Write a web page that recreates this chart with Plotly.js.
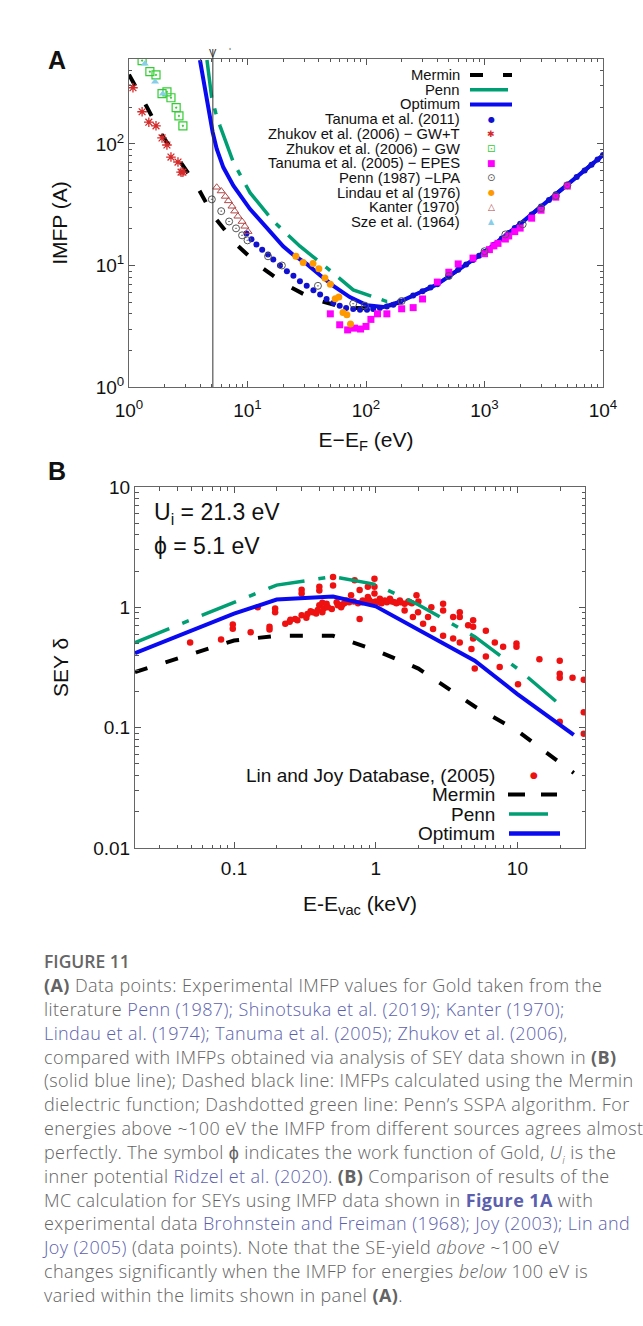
<!DOCTYPE html>
<html><head><meta charset="utf-8">
<script src="https://cdn.plot.ly/plotly-3.0.1.min.js"></script>
<style>
html,body{margin:0;padding:0;background:#fff;}
#wrap{position:relative;width:643px;height:1326px;overflow:hidden;background:#fff;}
#chart{position:absolute;left:0;top:0;width:643px;height:1326px;}
#cap{position:absolute;left:0;top:0;width:643px;height:1326px;font-family:'Open Sans',sans-serif;color:#636363;pointer-events:none;}
.ln{position:absolute;left:44px;white-space:nowrap;font-size:18px;line-height:20px;letter-spacing:0.4px;font-weight:300;}
.lk{color:#5c5fae;}
b{font-weight:700;}
</style></head>
<body>
<div id="wrap"><div id="chart"></div>
<div id="cap">
<div class="ln" style="top:951px;font-weight:600;color:#666;letter-spacing:0;font-size:17.5px;">FIGURE 11</div>
<div class="ln" style="top:975px;"><b>(A)</b> Data points: Experimental IMFP values for Gold taken from the</div>
<div class="ln" style="top:999px;">literature <span class="lk">Penn (1987); Shinotsuka et al. (2019); Kanter (1970);</span></div>
<div class="ln" style="top:1023px;"><span class="lk">Lindau et al. (1974); Tanuma et al. (2005); Zhukov et al. (2006)</span>,</div>
<div class="ln" style="top:1047px;">compared with IMFPs obtained via analysis of SEY data shown in <b>(B)</b></div>
<div class="ln" style="top:1070px;">(solid blue line); Dashed black line: IMFPs calculated using the Mermin</div>
<div class="ln" style="top:1094px;">dielectric function; Dashdotted green line: Penn’s SSPA algorithm. For</div>
<div class="ln" style="top:1118px;">energies above ~100 eV the IMFP from different sources agrees almost</div>
<div class="ln" style="top:1142px;">perfectly. The symbol ϕ indicates the work function of Gold, <i>U<sub style="font-size:11px">i</sub></i> is the</div>
<div class="ln" style="top:1166px;">inner potential <span class="lk">Ridzel et al. (2020)</span>. <b>(B)</b> Comparison of results of the</div>
<div class="ln" style="top:1190px;">MC calculation for SEYs using IMFP data shown in <b class="lk">Figure 1A</b> with</div>
<div class="ln" style="top:1213px;">experimental data <span class="lk">Brohnstein and Freiman (1968); Joy (2003); Lin and</span></div>
<div class="ln" style="top:1237px;"><span class="lk">Joy (2005)</span> (data points). Note that the SE-yield <i>above</i> ~100 eV</div>
<div class="ln" style="top:1261px;">changes significantly when the IMFP for energies <i>below</i> 100 eV is</div>
<div class="ln" style="top:1285px;">varied within the limits shown in panel <b>(A)</b>.</div>
</div>
</div>
<script>
// ---------------- Panel A data (E - E_F in eV, IMFP in Angstrom) ----------------
const merminE = [1,1.12,1.4,1.9,2.64,3.75,5.1,8,12.5,20.7,35.7,66.5,100,150,200,300,400,600,1000,2000,4000,10000];
const merminL = [372,301,205,118,74,45,26,15,10,7.0,5.3,4.5,4.45,4.6,5.05,6.14,7.0,9.2,12.9,22,38.6,81];
const pennE = [4.55,4.98,5.4,5.86,7.6,10.5,16.5,27.7,46.5,78,150,200,300,400,600,1000,2000,4000,10000];
const pennL = [490,243,180,141,70.6,39.7,23.2,14.4,9.6,6.3,5.05,5.1,6.14,7.0,9.2,12.9,22,38.6,81];
const optE = [3.97,4.24,4.52,4.82,5.08,5.5,6.25,7.6,10.5,14.5,20,24.4,31.6,41,53,73,102,140,194,300,400,600,1000,2000,4000,10000];
const optL = [490,343,236,161,125,90.8,64.2,45.3,29.1,20.5,14.4,12.2,10.3,8.3,6.8,5.5,4.7,4.55,5.05,6.14,7.0,9.2,12.9,22,38.6,81];

const tan11E = [9.8,10.8,11.9,13.3,14.9,16.5,18.8,21.5,24.4,27.7,31.6,36,41,46.5,53,60,68,78,89,102,115,131,150,170,194,250,300,350,400,500,600,700,800,900,1000,1200,1400,1600,1800,2000,2500,3000,3500,4000,5000,6000,7000,8000,9000,10000];
const tan11L = [18.3,16.4,14.9,13.5,12.3,11.2,10.0,8.95,8.24,7.4,6.8,6.25,5.77,5.3,4.9,4.67,4.47,4.38,4.33,4.33,4.38,4.47,4.6,4.76,5.05,5.65,6.14,6.6,7.0,8.1,9.2,10.2,11.1,12.0,12.9,14.8,16.7,18.5,20.3,22,26.3,30.5,34.6,38.6,46.2,53.5,60.6,67.5,74.3,81];
const zhGWTE = [1.08,1.29,1.47,1.69,1.9,2.09,2.26,2.59,2.75,2.85];
const zhGWTL = [290,184,151,141,112,98,78,71,58.6,58.6];
const zhGWE = [1.29,1.5,1.69,1.9,2.09,2.26,2.5,2.64,2.85];
const zhGWL = [485,393,370,259,268,240,199,170,141];
const epesE = [50,60,70,80,90,100,110,125,150,200,250,300,400,500,600,800,1000,1100,1200,1300,1500,1600,1800,2000,2500,3000,4000,5000];
const epesL = [4.0,3.25,2.95,3.05,3.0,3.15,3.6,4.0,4.0,4.4,4.5,5.3,7.3,8.8,10.3,11.5,12.5,13.5,14.5,15.2,16.5,17.5,19,20.3,24.5,28.5,36.5,45];
const pennLpaE = [5.0,6.0,7.0,8.0,9.0,10,14.9,19.5,39.3,78,98,200,500,1000,1500,2100,3000,4000,5000];
const pennLpaL = [35,28,23,20.2,17.7,16.1,11.9,10.0,6.8,4.85,4.67,5.1,8.2,13.1,18,21.8,29.6,37.3,45.7];
const lindauE = [25.6,29.5,35.7,40,45,50,55,59,64,69,74];
const lindauL = [11.9,10.6,10.4,9.4,7.9,7.0,5.33,5.5,4.1,3.93,3.3];
const kanterE = [5.5,6.0,6.5,6.9,7.4,7.8,8.3,9.0,9.5,10.1];
const kanterL = [44,41,37,34,30.7,28,25.4,23,21,19];
const szeE = [1.36,1.66,1.93];
const szeL = [458,325,259];

// ---------------- Panel B data (E - E_vac in keV, SEY) ----------------
const bE = [0.02,0.1,0.2,0.5,1,2,5,10,25];
const bOpt = [0.416,0.886,1.16,1.23,1.02,0.65,0.36,0.19,0.087];
const bMerE = [0.02,0.1,0.2,0.5,1,2,5,10,25];
const bMer = [0.29,0.53,0.58,0.58,0.44,0.31,0.15,0.094,0.042];
const bPennE = [0.02,0.1,0.2,0.5,1,2,5,10,20];
const bPenn = [0.51,1.1,1.53,1.8,1.55,1.05,0.57,0.31,0.155];
const ljE = [0.049,0.081,0.098,0.098,0.131,0.147,0.178,0.178,0.195,0.195,0.23,0.247,0.28,0.30,0.30,0.30,0.324,0.347,0.38,0.40,0.40,0.40,0.42,0.42,0.36,0.45,0.49,0.50,0.50,0.53,0.57,0.62,0.67,0.71,0.77,0.77,0.81,0.88,0.88,0.98,0.98,0.98,1.07,1.16,1.26,1.36,1.48,1.6,1.74,1.94,1.6,1.83,1.99,2.16,2.34,2.54,2.47,2.99,2.99,2.99,3.52,3.52,3.92,3.92,3.92,4.49,4.87,4.87,4.87,4.74,5.0,5.99,5.99,6.93,7.5,7.93,9.85,9.85,10.1,14.3,19.9,19.9,19.9,19.9,24.5,29.4,29.4,29.4,
  0.55,0.6,0.65,0.7,0.75,0.8,0.85,0.9,0.95,1.0,1.05,1.1,1.2,1.3,1.4,1.5,1.7,1.8,2.0,0.33,0.39,0.43,0.46,0.54,0.58,0.27,0.25];
const ljD = [0.51,0.54,0.72,0.665,0.62,1.0,0.69,0.655,0.98,0.91,0.73,0.76,0.78,0.86,1.40,1.30,0.82,0.93,0.89,1.04,1.48,1.38,0.91,1.09,0.91,1.07,0.97,1.79,1.52,1.1,1.0,1.14,1.26,1.68,1.39,0.80,1.14,1.22,1.48,1.73,1.48,1.3,1.18,1.14,1.18,1.1,1.14,1.07,1.1,1.26,0.94,0.83,0.91,0.73,0.83,0.66,1.0,1.07,0.94,0.58,0.83,0.55,0.91,0.83,0.51,0.71,0.78,0.69,0.55,0.45,0.31,0.64,0.39,0.51,0.32,0.47,0.50,0.47,0.23,0.37,0.36,0.28,0.26,0.112,0.26,0.25,0.134,0.089,
  1.05,1.08,1.1,1.12,1.08,1.1,1.12,1.15,1.1,1.12,1.1,1.08,1.1,1.12,1.08,1.1,1.12,1.08,1.12,0.88,0.95,0.98,1.0,1.04,1.05,0.8,0.79];

// ---------------- layout helpers (pixel -> paper) ----------------
const W = 643, H = 1326;
const PX = x => x / W, PY = y => 1 - y / H;
const FONT = 'Liberation Sans, Arial, sans-serif';
const BLUE = '#0a0af0', GREEN = '#009e73', BLACK = '#000000';

function minorVals(lo, hi) {
  const v = [];
  for (let d = lo; d < hi; d++) for (let k = 2; k <= 9; k++) v.push(k * Math.pow(10, d));
  return v;
}

const traces = [
  // Panel A
  {x: merminE, y: merminL, xaxis:'x', yaxis:'y', mode:'lines', line:{color:BLACK, width:4, dash:'13px,21px'}},
  {x: pennE, y: pennL, xaxis:'x', yaxis:'y', mode:'lines', line:{color:GREEN, width:3.5, dash:'38px,11px,6px,11px'}},
  {x: optE, y: optL, xaxis:'x', yaxis:'y', mode:'lines', line:{color:BLUE, width:4}},
  {x: tan11E, y: tan11L, xaxis:'x', yaxis:'y', mode:'markers', marker:{symbol:'circle', size:6, color:'#1010d0'}},
  {x: zhGWTE, y: zhGWTL, xaxis:'x', yaxis:'y', mode:'markers', marker:{symbol:'asterisk-open', size:8, color:'#d42a2a', line:{color:'#d42a2a', width:1.3}}},
  {x: zhGWE, y: zhGWL, xaxis:'x', yaxis:'y', mode:'markers', marker:{symbol:'square-open-dot', size:8, color:'#33cc33', line:{color:'#33cc33', width:1.2}}},
  {x: epesE, y: epesL, xaxis:'x', yaxis:'y', mode:'markers', marker:{symbol:'square', size:7, color:'#ff00ff'}},
  {x: pennLpaE, y: pennLpaL, xaxis:'x', yaxis:'y', mode:'markers', marker:{symbol:'circle-open-dot', size:7, color:'#555', line:{color:'#555', width:1}}},
  {x: lindauE, y: lindauL, xaxis:'x', yaxis:'y', mode:'markers', marker:{symbol:'circle', size:7, color:'#ff9900'}},
  {x: kanterE, y: kanterL, xaxis:'x', yaxis:'y', mode:'markers', marker:{symbol:'triangle-up-open', size:7, color:'#b04848', line:{color:'#b04848', width:1}}},
  {x: szeE, y: szeL, xaxis:'x', yaxis:'y', mode:'markers', marker:{symbol:'triangle-up', size:7, color:'#87ceeb'}},
  // Panel B
  {x: ljE, y: ljD, xaxis:'x2', yaxis:'y2', mode:'markers', marker:{symbol:'circle', size:6.5, color:'#ee1111'}},
  {x: bMerE, y: bMer, xaxis:'x2', yaxis:'y2', mode:'lines', line:{color:BLACK, width:4, dash:'13px,19px'}},
  {x: bPennE, y: bPenn, xaxis:'x2', yaxis:'y2', mode:'lines', line:{color:GREEN, width:3.5, dash:'37px,14px,7px,14px'}},
  {x: bE, y: bOpt, xaxis:'x2', yaxis:'y2', mode:'lines', line:{color:BLUE, width:4}}
];

const axBase = {
  type:'log', showgrid:false, zeroline:false, showline:true, linecolor:'#666', linewidth:1,
  mirror:'allticks', ticks:'inside', ticklen:6, tickcolor:'#555', tickwidth:1,
  tickfont:{family:FONT, size:19, color:'#111'}
};

const layout = {
  width: W, height: H, margin:{l:0, r:0, t:0, b:0}, showlegend:false,
  paper_bgcolor:'rgba(0,0,0,0)', plot_bgcolor:'rgba(0,0,0,0)',
  font:{family:FONT, color:'#111'},
  xaxis: Object.assign({}, axBase, {
    domain:[PX(129), PX(603)], range:[0, 4], anchor:'y', ticklabelstandoff:6,
    tickmode:'array', tickvals:[1,10,100,1000,10000],
    ticktext:['10<sup>0</sup>','10<sup>1</sup>','10<sup>2</sup>','10<sup>3</sup>','10<sup>4</sup>'],
    minor:{tickmode:'array', tickvals:minorVals(0,4), ticks:'inside', ticklen:3, tickcolor:'#555', showgrid:false},
    title:{text:'E−E<sub>F</sub> (eV)', font:{family:FONT, size:21, color:'#111'}, standoff:12}
  }),
  yaxis: Object.assign({}, axBase, {
    domain:[PY(387), PY(59)], range:[0, Math.log10(500)], anchor:'x',
    tickmode:'array', tickvals:[1,10,100],
    ticktext:['10<sup>0</sup>','10<sup>1</sup>','10<sup>2</sup>'],
    minor:{tickmode:'array', tickvals:minorVals(0,3).filter(v=>v<500), ticks:'inside', ticklen:3, tickcolor:'#555', showgrid:false},
    title:{text:'IMFP (A)', font:{family:FONT, size:21, color:'#111'}, standoff:22}
  }),
  xaxis2: Object.assign({}, axBase, {
    domain:[PX(135), PX(585)], range:[Math.log10(0.02), Math.log10(30)], anchor:'y2', ticklabelstandoff:3,
    tickmode:'array', tickvals:[0.1,1,10], ticktext:['0.1','1','10'],
    minor:{tickmode:'array', tickvals:minorVals(-2,2).filter(v=>v>=0.02 && v<=30), ticks:'inside', ticklen:3.5, tickcolor:'#555', showgrid:false},
    title:{text:'E-E<sub>vac</sub> (keV)', font:{family:FONT, size:21, color:'#111'}, standoff:18}
  }),
  yaxis2: Object.assign({}, axBase, {
    domain:[PY(848), PY(487)], range:[-2, 1], anchor:'x2',
    tickmode:'array', tickvals:[0.01,0.1,1,10], ticktext:['0.01','0.1','1','10'],
    minor:{tickmode:'array', tickvals:minorVals(-2,1), ticks:'inside', ticklen:3.5, tickcolor:'#555', showgrid:false},
    title:{text:'SEY δ', font:{family:FONT, size:21, color:'#111'}, standoff:18}
  }),
  shapes: [],
  annotations: []
};

const A = layout.annotations, S = layout.shapes;
function txt(t, x, y, size, opt) {
  A.push(Object.assign({text:t, xref:'paper', yref:'paper', x:PX(x), y:PY(y), showarrow:false,
    xanchor:'right', yanchor:'middle', font:{family:FONT, size:size, color:'#111'}}, opt || {}));
}
// panel letters
txt('<b>A</b>', 57, 60, 25, {xanchor:'center'});
txt('<b>B</b>', 57, 471, 25, {xanchor:'center'});
// panel B parameters
txt('U<sub>i</sub> = 21.3 eV', 152, 513, 23, {xanchor:'left'});
txt('ϕ = 5.1 eV', 152, 546, 23, {xanchor:'left'});

// Panel A legend
const legA = ['Mermin','Penn','Optimum','Tanuma et al. (2011)','Zhukov et al. (2006) − GW+T','Zhukov et al. (2006) − GW',
  'Tanuma et al. (2005) − EPES','Penn (1987) −LPA','Lindau et al (1976)','Kanter (1970)','Sze et al. (1964)'];
const legAy = legA.map((_, i) => 75 + i * 14.7);
legA.forEach((t, i) => txt(t, 462, legAy[i], 14.8));
S.push({type:'line', xref:'paper', yref:'paper', x0:PX(470), x1:PX(512), y0:PY(legAy[0]), y1:PY(legAy[0]), line:{color:BLACK, width:4, dash:'13px,20px'}});
S.push({type:'line', xref:'paper', yref:'paper', x0:PX(470), x1:PX(508), y0:PY(legAy[1]), y1:PY(legAy[1]), line:{color:GREEN, width:3.5}});
S.push({type:'line', xref:'paper', yref:'paper', x0:PX(470), x1:PX(512), y0:PY(legAy[2]), y1:PY(legAy[2]), line:{color:BLUE, width:4}});
const glyphs = [['●','#1010d0',8],['✱','#d42a2a',9],['⊡','#33cc33',10],['■','#ff00ff',9],['⊙','#555',10],['●','#ff9900',8],['△','#b04848',9],['▲','#87ceeb',8]];
glyphs.forEach((g, i) => txt(g[0], 491, legAy[i+3], g[2], {xanchor:'center', font:{family:'DejaVu Sans', size:g[2], color:g[1]}}));

// Panel B legend
const legB = ['Lin and Joy Database, (2005)','Mermin','Penn','Optimum'];
const legBy = [775, 794.5, 814, 833.5];
legB.forEach((t, i) => txt(t, 497, legBy[i], 19));
txt('●', 534, legBy[0], 9, {xanchor:'center', font:{family:'DejaVu Sans', size:9, color:'#ee1111'}});
S.push({type:'line', xref:'paper', yref:'paper', x0:PX(508), x1:PX(557), y0:PY(legBy[1]), y1:PY(legBy[1]), line:{color:BLACK, width:4, dash:'17px,16px'}});
S.push({type:'line', xref:'paper', yref:'paper', x0:PX(509), x1:PX(548), y0:PY(legBy[2]), y1:PY(legBy[2]), line:{color:GREEN, width:3.5}});
S.push({type:'line', xref:'paper', yref:'paper', x0:PX(509), x1:PX(560), y0:PY(legBy[3]), y1:PY(legBy[3]), line:{color:BLUE, width:4.5}});

// vertical line at the work function (5.1 eV), extending above the frame
S.push({type:'line', xref:'x', yref:'paper', x0:5.1, x1:5.1, y0:PY(387), y1:PY(49), line:{color:'#333', width:1}});
txt('V', 212.5, 53, 11, {xanchor:'center', font:{family:FONT, size:11, color:'#333'}});
txt('ˈ', 230, 53, 12, {xanchor:'center', font:{family:FONT, size:12, color:'#333'}});

Plotly.newPlot('chart', traces, layout, {displayModeBar:false, staticPlot:true});
</script>
</body></html>
